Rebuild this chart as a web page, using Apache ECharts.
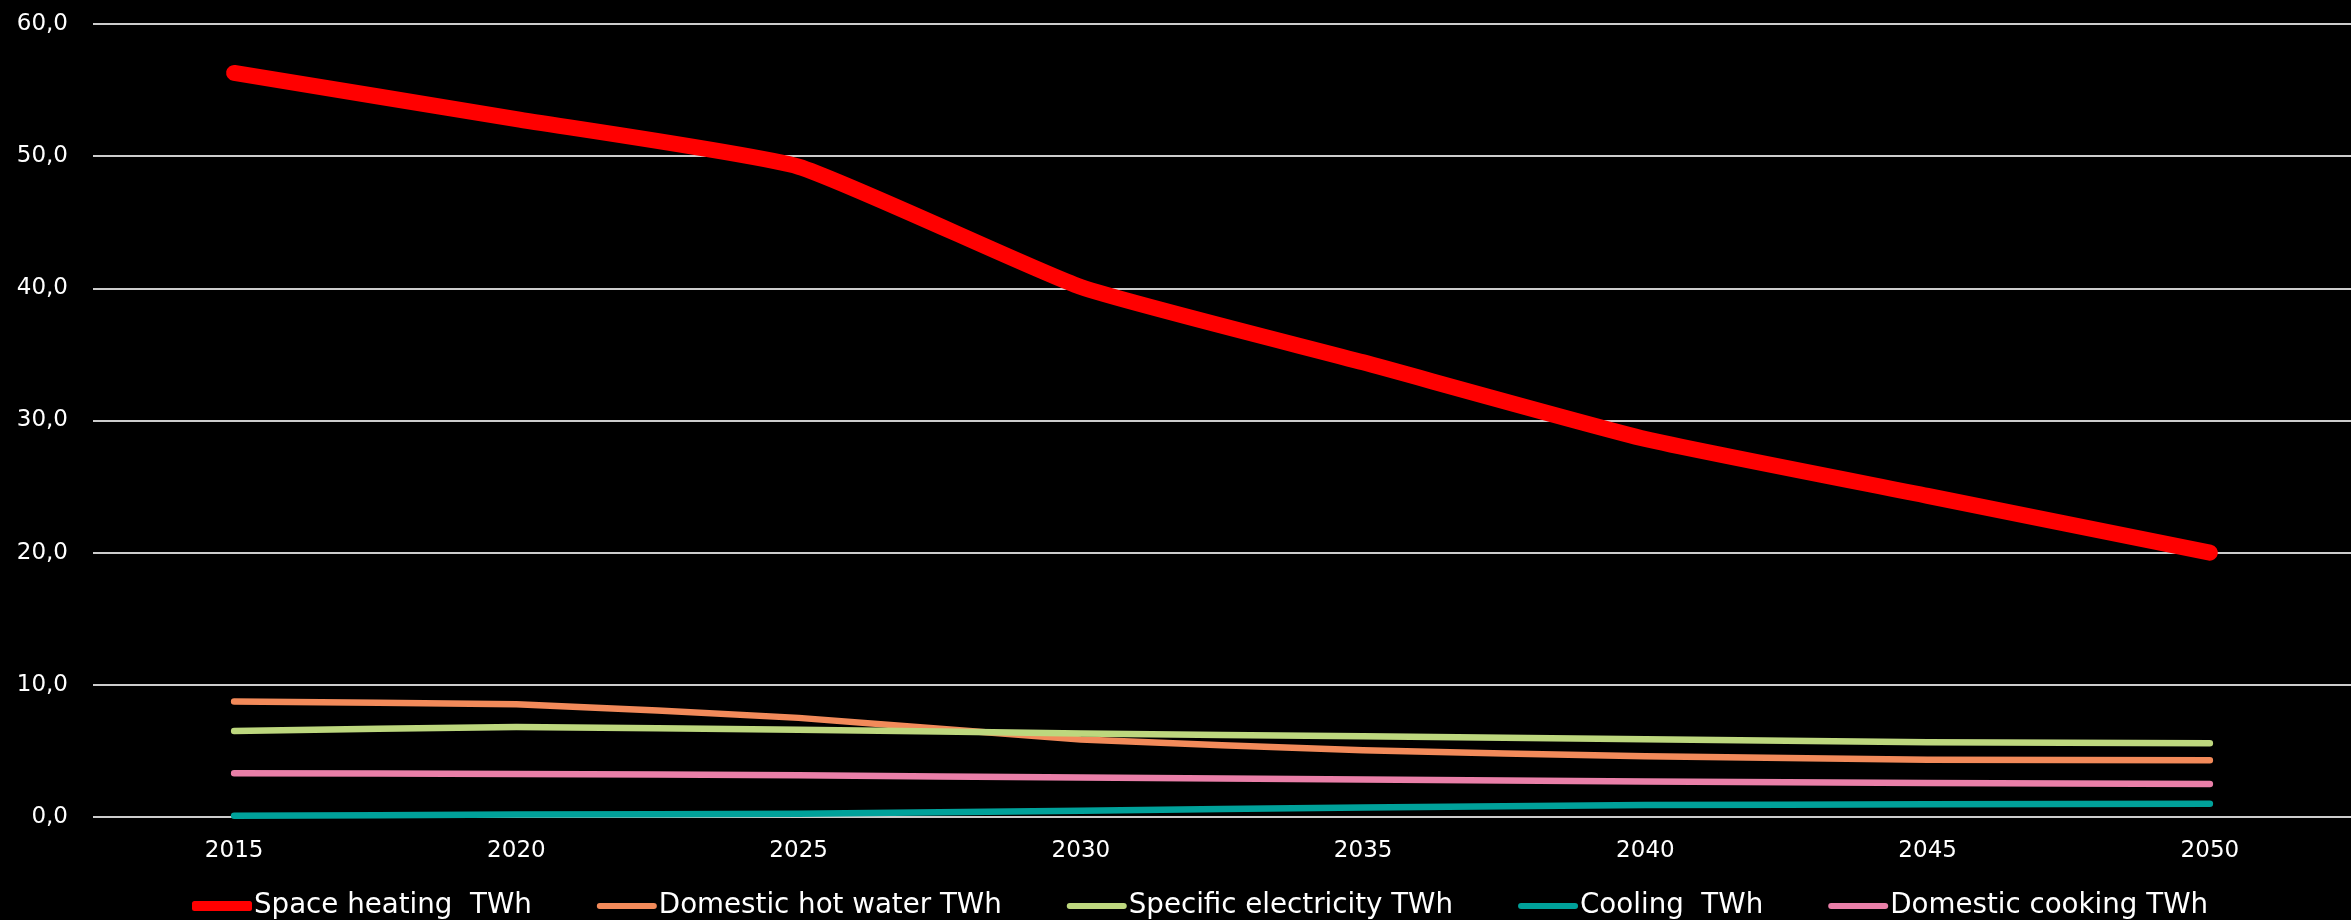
<!DOCTYPE html>
<html>
<head>
<meta charset="utf-8">
<title>Energy demand by end use</title>
<script src="https://cdn.jsdelivr.net/npm/echarts@6/dist/echarts.min.js"></script>
<style>
  html, body { margin: 0; padding: 0; background: #000; }
  #chart { width: 2351px; height: 920px; }
</style>
</head>
<body>
<div id="chart"></div>
<script>
// Years on the horizontal axis
const years = ['2015', '2020', '2025', '2030', '2035', '2040', '2045', '2050'];

// Demand per end use, TWh
const spaceHeating        = [56.3, 52.8, 49.2, 40.1, 34.4, 28.6, 24.3, 20.0];
const domesticHotWater    = [8.73, 8.53, 7.50, 5.86, 5.05, 4.60, 4.34, 4.29];
const specificElectricity = [6.51, 6.81, 6.61, 6.31, 6.11, 5.88, 5.65, 5.58];
const cooling             = [0.10, 0.18, 0.25, 0.48, 0.72, 0.90, 0.96, 1.01];
const domesticCooking     = [3.31, 3.26, 3.16, 2.98, 2.83, 2.68, 2.57, 2.50];

// Series names as shown in the legend
const seriesNames = [
  'Space heating  TWh',
  'Domestic hot water TWh',
  'Specific electricity TWh',
  'Cooling  TWh',
  'Domestic cooking TWh'
];

// Y-axis range
const yMin = 0, yMax = 60, yStep = 10;

const FONT = 'DejaVu Sans, Verdana, sans-serif';

// Legend keys: a full-height bar for the thick series, a slimmer bar
// (kept inside the same 60x10 box) for the thin ones
const ICON_THICK = 'roundRect';
const ICON_THIN = 'path://M0,0 M60,10 M3,2 L57,2 A3,3 0 0 1 57,8 L3,8 A3,3 0 0 1 3,2 Z';

function lineSeries(name, data, color, width) {
  return {
    name: name,
    type: 'line',
    data: data,
    smooth: 0.15,
    symbol: 'none',
    color: color,
    lineStyle: { color: color, width: width, cap: 'round', join: 'round' }
  };
}

const chart = echarts.init(document.getElementById('chart'), null, { renderer: 'canvas' });

chart.setOption({
  backgroundColor: '#000000',
  animation: false,
  grid: { left: 93, top: 24, width: 2267, height: 793, containLabel: false },
  legend: {
    left: 187,
    top: 887,
    itemWidth: 60,
    itemHeight: 10,
    itemGap: 65,
    textStyle: { color: '#FFFFFF', fontSize: 27.7, fontFamily: FONT, padding: [0, 0, 0, -3] },
    data: seriesNames.map((n, i) => ({ name: n, icon: i === 0 ? ICON_THICK : ICON_THIN }))
  },
  xAxis: {
    type: 'category',
    data: years,
    boundaryGap: true,
    axisLine: { show: false },
    axisTick: { show: false },
    axisLabel: { color: '#FFFFFF', fontSize: 23, fontFamily: FONT, margin: 23 },
    splitLine: { show: false }
  },
  yAxis: {
    type: 'value',
    min: yMin,
    max: yMax,
    interval: yStep,
    axisLine: { show: false },
    axisTick: { show: false },
    axisLabel: {
      color: '#FFFFFF',
      fontSize: 23,
      fontFamily: FONT,
      margin: 25,
      formatter: v => v.toFixed(1).replace('.', ',')
    },
    splitLine: { show: true, lineStyle: { color: '#CCCCCC', width: 2 } }
  },
  series: [
    lineSeries(seriesNames[3], cooling, '#00A19A', 6.5),
    lineSeries(seriesNames[4], domesticCooking, '#E97FA8', 6.5),
    lineSeries(seriesNames[1], domesticHotWater, '#F28A5A', 6.5),
    lineSeries(seriesNames[2], specificElectricity, '#BDD77E', 6.5),
    lineSeries(seriesNames[0], spaceHeating, '#FF0000', 16)
  ]
});
</script>
</body>
</html>
